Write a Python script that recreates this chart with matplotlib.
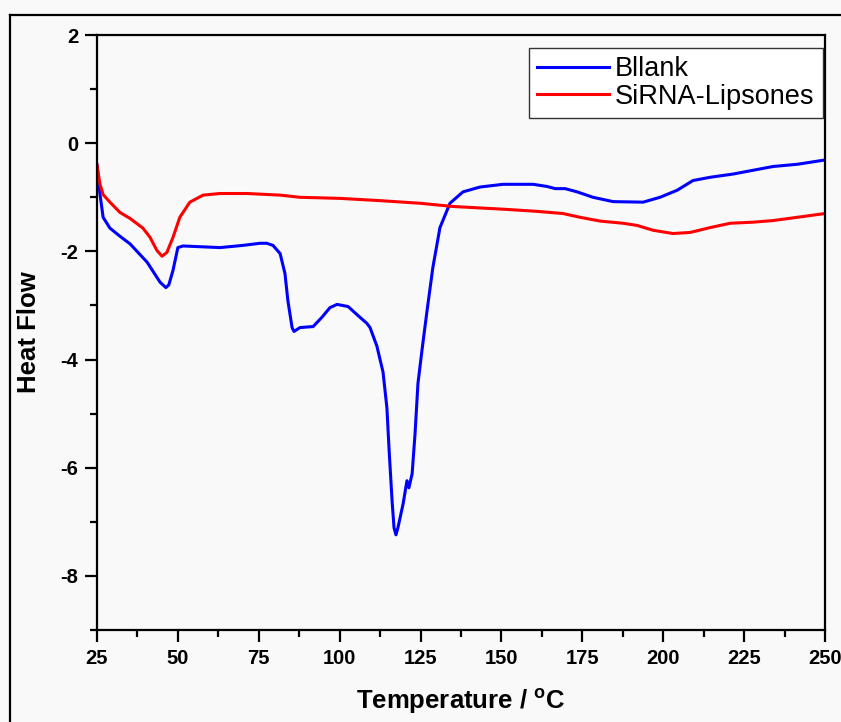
import matplotlib
matplotlib.use("Agg")
import matplotlib.pyplot as plt
from matplotlib.lines import Line2D
from matplotlib.ticker import MultipleLocator

# DSC traces
blank_t = [25.0, 25.9, 26.9, 29.0, 32.1, 35.2, 40.5, 44.5, 46.3, 47.2, 48.5, 50.0,
           51.6, 63.0, 70.0, 75.4, 77.5, 79.4, 81.6, 83.1, 84.0, 85.3, 85.9, 87.7,
           89.5, 91.8, 94.5, 97.0, 99.2, 102.6, 106.3, 108.4, 109.4, 111.5, 113.4,
           114.6, 115.3, 116.2, 116.8, 117.4, 118.0, 119.6, 120.8, 121.4, 122.4,
           123.3, 124.2, 125.5, 127.0, 128.8, 131.0, 134.1, 138.1, 143.4, 150.5,
           159.8, 164.1, 166.6, 169.7, 173.4, 178.3, 184.5, 193.8, 199.0, 204.3,
           209.2, 214.5, 221.6, 227.8, 234.0, 241.4, 250.0]
blank_hf = [-0.40, -0.93, -1.37, -1.57, -1.72, -1.86, -2.20, -2.57, -2.67, -2.62, -2.35, -1.93,
            -1.90, -1.93, -1.89, -1.85, -1.85, -1.89, -2.04, -2.41, -2.91, -3.41, -3.48, -3.41,
            -3.40, -3.39, -3.22, -3.04, -2.98, -3.02, -3.22, -3.33, -3.41, -3.75, -4.23,
            -4.89, -5.69, -6.61, -7.11, -7.24, -7.11, -6.67, -6.24, -6.37, -6.11,
            -5.37, -4.44, -3.80, -3.10, -2.30, -1.56, -1.11, -0.90, -0.81, -0.76,
            -0.76, -0.80, -0.84, -0.84, -0.90, -1.00, -1.08, -1.09, -1.00, -0.87,
            -0.69, -0.63, -0.57, -0.50, -0.43, -0.39, -0.31]

sirna_t = [25.0, 25.9, 26.9, 29.0, 32.1, 35.2, 39.2, 41.4, 43.5, 45.1, 46.6, 48.5,
           50.6, 53.7, 57.8, 63.0, 71.4, 81.6, 87.7, 100.0, 112.0, 124.8, 135.0,
           150.5, 161.0, 169.0, 174.3, 180.5, 187.6, 191.9, 196.9, 203.0, 208.3,
           214.5, 220.7, 227.8, 234.0, 241.4, 250.0]
sirna_hf = [-0.40, -0.75, -0.95, -1.09, -1.28, -1.39, -1.57, -1.74, -1.98, -2.09, -2.02, -1.74,
            -1.37, -1.09, -0.96, -0.93, -0.93, -0.96, -1.00, -1.02, -1.06, -1.11, -1.17,
            -1.22, -1.26, -1.30, -1.37, -1.44, -1.48, -1.52, -1.61, -1.67, -1.65,
            -1.56, -1.48, -1.46, -1.43, -1.37, -1.30]

x_ticks = [25, 50, 75, 100, 125, 150, 175, 200, 225, 250]
y_ticks = [-8, -6, -4, -2, 0, 2]

plt.rcParams["font.family"] = ["Liberation Sans", "DejaVu Sans"]
plt.rcParams["axes.unicode_minus"] = False

fig = plt.figure(figsize=(8.41, 7.22), dpi=100, facecolor="#f9f9f9")
ax = fig.add_axes([0.1153, 0.1274, 0.8657, 0.8241])
ax.set_facecolor("#f9f9f9")

ax.plot(blank_t, blank_hf, color="#0000ff", lw=2.2, label="Bllank")
ax.plot(sirna_t, sirna_hf, color="#ff0000", lw=2.2, label="SiRNA-Lipsones")

ax.set_xlim(25, 250)
ax.set_ylim(-9, 2)
ax.set_xticks(x_ticks)
ax.set_yticks(y_ticks)
ax.xaxis.set_minor_locator(MultipleLocator(12.5))
ax.yaxis.set_minor_locator(MultipleLocator(1))
ax.tick_params(which="major", direction="out", length=8.5, width=1.6, pad=5,
               labelsize=14.5)
ax.tick_params(which="minor", direction="out", length=5, width=1.6)
ax.tick_params(top=False, right=False, which="both")
for lab in ax.get_xticklabels() + ax.get_yticklabels():
    lab.set_fontweight("bold")
for sp in ax.spines.values():
    sp.set_linewidth(1.6)

ax.set_xlabel("Temperature / $^{\\mathregular{o}}$C", fontweight="bold", fontsize=18.5,
              va="center")
ax.xaxis.set_label_coords(0.5, -0.119)
ax.set_ylabel("Heat Flow", fontweight="bold", fontsize=18.5, va="center")
ax.yaxis.set_label_coords(-0.0934, 0.5)

leg = ax.legend(loc="upper right", bbox_to_anchor=(0.997, 0.978), borderaxespad=0,
                fontsize=19.5, fancybox=False, handlelength=2.65, handletextpad=0.22,
                labelspacing=0.05, borderpad=0.3, framealpha=1)
leg.get_frame().set_edgecolor("#333333")
leg.get_frame().set_facecolor("white")
leg.get_frame().set_linewidth(1.0)

# outer border (cropped on the right and bottom in the original)
fig.add_artist(Line2D([0.012, 1.0], [0.979, 0.979], color="black", lw=1.6,
                      transform=fig.transFigure))
fig.add_artist(Line2D([0.012, 0.012], [0.0, 0.979], color="black", lw=1.6,
                      transform=fig.transFigure))

fig.savefig("out.png", dpi=100, facecolor=fig.get_facecolor())
